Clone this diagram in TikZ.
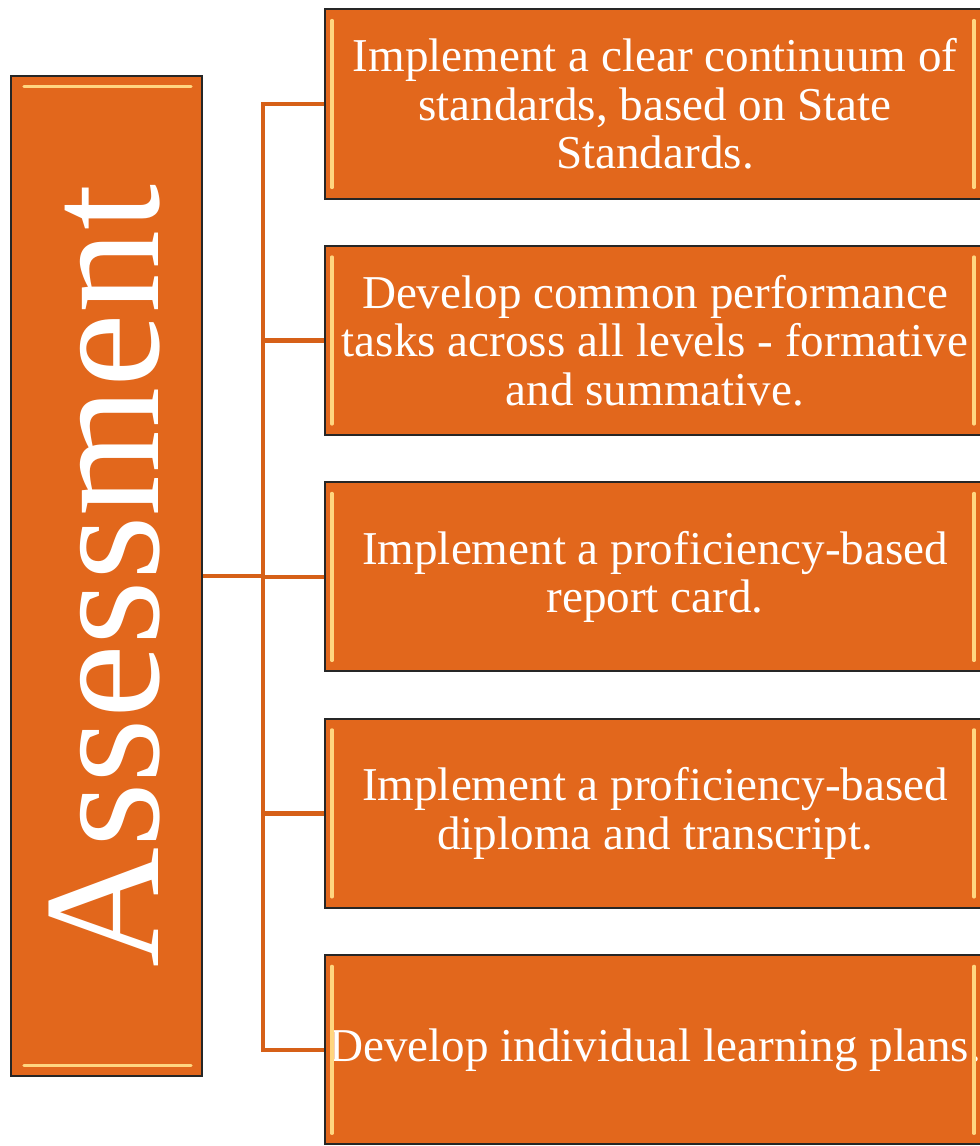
\documentclass[tikz,border=0pt]{standalone}
\usepackage{fontspec}
\setmainfont{Liberation Serif}
\usepackage{tikz}
\usetikzlibrary{calc}
\usetikzlibrary{positioning}
\definecolor{pumpkin}{RGB}{226, 103, 28}
\definecolor{carrot}{RGB}{214, 96, 24}
\definecolor{sunflower}{RGB}{255, 214, 128}
\definecolor{midnight}{RGB}{38, 38, 38}

\begin{document}
\begin{tikzpicture}[x=0.025cm, y=-0.025cm,
        tile/.style={draw=midnight, fill=pumpkin, line width=0.05cm, text=white, align=center,
                     minimum width=16.5cm, minimum height=4.725cm, inner sep=0pt,
                     font=\fontsize{33.5}{34.5}\selectfont},
        link/.style={carrot, line width=0.11cm},
        glint/.style={sunflower, line width=0.08cm, line cap=round}]
            \clip (0,0) rectangle (980,1146);
            % left column
            \node[draw=midnight, fill=pumpkin, line width=0.05cm, minimum width=4.775cm, minimum height=25cm,
                  inner sep=0pt] (assess) at (106.5, 576) {};
            \node[rotate=90, text=white, inner sep=0pt, font=\fontsize{118}{118}\selectfont] (title) at (105, 576) {Assessment};
            \draw[glint] ($(assess.north west)+(14, 12)$) -- ($(assess.north east)+(-12, 12)$);
            \draw[glint] ($(assess.south west)+(14,-12)$) -- ($(assess.south east)+(-12,-12)$);
            % right column
            \node[tile] (t1) at (655, 104) {Implement a clear continuum of\\standards, based on State\\Standards.};
            \node[tile, below=1.135cm of t1] (t2) {Develop common performance\\tasks across all levels - formative\\and summative.};
            \node[tile, below=1.135cm of t2] (t3) {Implement a proficiency-based\\report card.};
            \node[tile, below=1.135cm of t3] (t4) {Implement a proficiency-based\\diploma and transcript.};
            \node[tile, below=1.135cm of t4] (t5) {Develop individual learning plans.};
            \foreach \i in {1,...,5} {
                \draw[glint] ($(t\i.north west)+( 8, 12)$) -- ($(t\i.south west)+( 8,-12)$);
                \draw[glint] ($(t\i.north east)+(-12, 12)$) -- ($(t\i.south east)+(-12,-12)$);
            }
            % connectors
            \coordinate (hub) at ($(assess.east)+(60, 0)$);
            \draw[link] (assess.east) -- (hub);
            \foreach \i in {1,...,5}
                \draw[link] (hub) |- (t\i.west);
        \end{tikzpicture}
\end{document}
